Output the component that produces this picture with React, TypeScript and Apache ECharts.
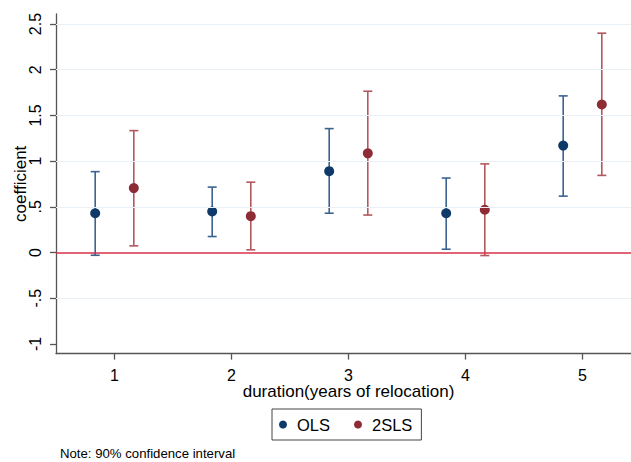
import React, { useEffect, useRef } from "react";
import * as echarts from "echarts";

const durations = [1, 2, 3, 4, 5];
const olsCoef = [0.43, 0.45, 0.89, 0.43, 1.17];
const olsLow = [-0.03, 0.175, 0.43, 0.036, 0.617];
const olsHigh = [0.885, 0.716, 1.356, 0.815, 1.714];
const tslsCoef = [0.705, 0.398, 1.085, 0.468, 1.62];
const tslsLow = [0.073, 0.03, 0.41, -0.033, 0.844];
const tslsHigh = [1.334, 0.77, 1.765, 0.97, 2.4];
const yTicks = [-1, -0.5, 0, 0.5, 1, 1.5, 2, 2.5];
const yGrid = [-0.5, 0.5, 1, 1.5, 2, 2.5];
const xTicks = [1, 2, 3, 4, 5];

const FONT = "'Liberation Sans', Arial, sans-serif";
const OFFSET = 0.165;

const OLS_DOT = "#0e3a6a";
const OLS_BAR = "#3a6391";
const TSLS_DOT = "#8e2c35";
const TSLS_BAR = "#b2585f";

function ciSeries(name: string, xs: number[], lo: number[], hi: number[], color: string) {
  return {
    type: "custom",
    name,
    z: 2,
    silent: true,
    data: xs.map((x, i) => [x, lo[i], hi[i]]),
    encode: { x: 0, y: [1, 2] },
    renderItem: (params: any, api: any) => {
      const x = api.value(0);
      const pLo = api.coord([x, api.value(1)]);
      const pHi = api.coord([x, api.value(2)]);
      const hw = 4.5;
      const st = { stroke: color, lineWidth: 1.6 };
      return {
        type: "group",
        children: [
          { type: "line", shape: { x1: pLo[0], y1: pLo[1], x2: pHi[0], y2: pHi[1] }, style: st },
          { type: "line", shape: { x1: pLo[0] - hw, y1: pLo[1], x2: pLo[0] + hw, y2: pLo[1] }, style: st },
          { type: "line", shape: { x1: pHi[0] - hw, y1: pHi[1], x2: pHi[0] + hw, y2: pHi[1] }, style: st },
        ],
      };
    },
  };
}

export default function App() {
  const ref = useRef<HTMLDivElement>(null);
  useEffect(() => {
    if (!ref.current) return;
    const chart = echarts.init(ref.current, undefined, { renderer: "svg" });
    const olsX = durations.map((d) => d - OFFSET);
    const tslsX = durations.map((d) => d + OFFSET);
    const fmt = (v: number) => {
      let s = String(v);
      s = s.replace(/^0\./, ".").replace(/^-0\./, "-.");
      return s;
    };
    chart.setOption({
      animation: false,
      backgroundColor: "#ffffff",
      textStyle: { fontFamily: FONT },
      grid: { left: 56, top: 14, width: 585, height: 339.6, outerBoundsMode: "none", containLabel: false },
      xAxis: {
        type: "value",
        min: 0.5,
        max: 5.5,
        name: "duration(years of relocation)",
        nameLocation: "middle",
        nameGap: 38,
        nameMoveOverlap: false,
        nameTextStyle: { fontSize: 17, color: "#000", fontFamily: FONT, align: "center", verticalAlign: "middle" },
        axisLine: { show: true, onZero: false, lineStyle: { color: "#555", width: 1.3 } },
        axisTick: { show: true, customValues: xTicks, length: 6, lineStyle: { color: "#555", width: 1.3 } },
        axisLabel: {
          customValues: xTicks,
          fontSize: 16,
          color: "#000",
          margin: 21.5,
          fontFamily: FONT,
          align: "center",
          verticalAlign: "middle",
        },
        splitLine: { show: false },
      },
      yAxis: {
        type: "value",
        min: -1.106,
        max: 2.61,
        name: "coefficient",
        nameLocation: "middle",
        nameGap: 36,
        nameMoveOverlap: false,
        nameRotate: 90,
        nameTextStyle: { fontSize: 17, color: "#000", fontFamily: FONT, align: "center", verticalAlign: "middle" },
        axisLine: { show: true, onZero: false, lineStyle: { color: "#555", width: 1.3 } },
        axisTick: { show: true, customValues: yTicks, length: 6, lineStyle: { color: "#555", width: 1.3 } },
        axisLabel: {
          customValues: yTicks,
          rotate: 90,
          fontSize: 16,
          color: "#000",
          margin: 21,
          fontFamily: FONT,
          align: "center",
          verticalAlign: "middle",
          formatter: fmt,
        },
        splitLine: { show: false },
      },
      legend: {
        data: ["OLS", "2SLS"],
        left: 272,
        top: 409,
        orient: "horizontal",
        icon: "circle",
        itemWidth: 8,
        itemHeight: 8,
        itemGap: 24,
        padding: [7, 9, 7, 7],
        borderColor: "#444",
        borderWidth: 1,
        textStyle: { fontSize: 16.5, color: "#000", fontFamily: FONT, padding: [0, 0, 0, 5] },
      },
      graphic: [
        {
          type: "text",
          left: 60,
          top: 447,
          style: { text: "Note: 90% confidence interval", fontSize: 13.2, fill: "#000", fontFamily: FONT },
        },
      ],
      series: [
        {
          type: "line",
          name: "grid",
          data: [],
          silent: true,
          z: 0,
          markLine: {
            silent: true,
            symbol: "none",
            label: { show: false },
            lineStyle: { color: "#eaf1f6", width: 1.2, type: "solid" },
            data: yGrid.map((v) => ({ yAxis: v })),
          },
        },
        {
          type: "line",
          name: "zero",
          data: [],
          silent: true,
          z: 1,
          markLine: {
            silent: true,
            symbol: "none",
            label: { show: false },
            lineStyle: { color: "#d8324a", width: 1.5, type: "solid" },
            data: [{ yAxis: 0 }],
          },
        },
        ciSeries("OLS CI", olsX, olsLow, olsHigh, OLS_BAR),
        ciSeries("2SLS CI", tslsX, tslsLow, tslsHigh, TSLS_BAR),
        {
          type: "scatter",
          name: "OLS",
          z: 3,
          symbol: "circle",
          symbolSize: 10,
          itemStyle: { color: OLS_DOT, opacity: 1 },
          data: olsX.map((x, i) => [x, olsCoef[i]]),
        },
        {
          type: "scatter",
          name: "2SLS",
          z: 3,
          symbol: "circle",
          symbolSize: 10,
          itemStyle: { color: TSLS_DOT, opacity: 1 },
          data: tslsX.map((x, i) => [x, tslsCoef[i]]),
        },
      ],
    });
    return () => chart.dispose();
  }, []);
  return (
    <div
      ref={ref}
      style={{ position: "fixed", left: 0, top: 0, width: 631, height: 462, background: "#fff" }}
    />
  );
}
